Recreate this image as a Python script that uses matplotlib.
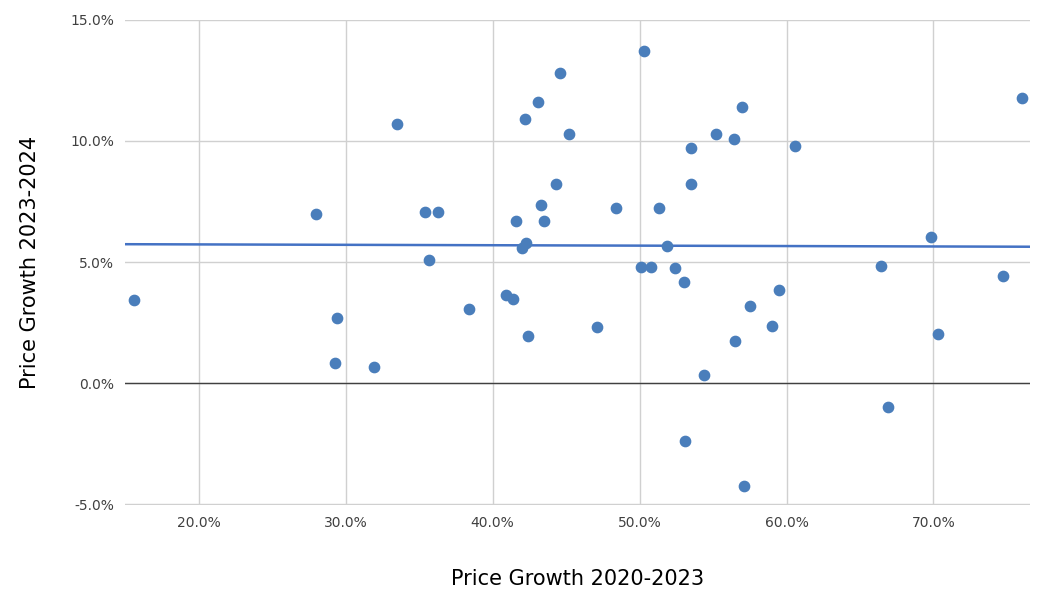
import matplotlib.pyplot as plt
import numpy as np
from matplotlib.ticker import PercentFormatter

plt.rcParams["axes.unicode_minus"] = False

growth_2020_2023 = [15.6, 28.0, 29.3, 29.4, 31.9, 33.5, 35.4, 35.7, 36.3, 38.4,
                    40.9, 41.4, 41.6, 42.0, 42.2, 42.3, 42.4, 43.1, 43.3, 43.5,
                    44.3, 44.6, 45.2, 47.1, 48.4, 50.1, 50.3, 50.8, 51.3, 51.9,
                    52.4, 53.0, 53.1, 53.5, 53.5, 54.4, 55.2, 56.4, 56.5, 57.0,
                    57.1, 57.5, 59.0, 59.5, 60.6, 66.4, 66.9, 69.8, 70.3, 74.7, 76.0]
growth_2023_2024 = [3.43, 6.98, 0.83, 2.69, 0.66, 10.7, 7.07, 5.08, 7.07, 3.06,
                    3.64, 3.47, 6.69, 5.58, 10.9, 5.79, 1.94, 11.6, 7.36, 6.69,
                    8.22, 12.8, 10.3, 2.31, 7.23, 4.79, 13.7, 4.79, 7.23, 5.66,
                    4.75, 4.17, -2.40, 9.71, 8.22, 0.33, 10.3, 10.1, 1.74, 11.4,
                    -4.26, 3.18, 2.36, 3.84, 9.79, 4.83, -0.99, 6.03, 2.02, 4.42, 11.78]

x = np.array(growth_2020_2023)
y = np.array(growth_2023_2024)

fig = plt.figure(figsize=(10.44, 6.03), dpi=100)
ax = fig.add_axes([0.12, 0.162, 0.867, 0.805])

ax.scatter(x, y, s=55, color="#4a7ebb", zorder=3)
slope, intercept = np.polyfit(x, y, 1)
xs = np.array([15.0, 76.6])
ax.plot(xs, slope * xs + intercept, color="#4472c4", linewidth=1.8, zorder=2)

ax.set_xlim(15.0, 76.6)
ax.set_ylim(-5.05, 15)
ax.set_xticks(np.arange(20, 71, 10))
ax.set_yticks(np.arange(-5, 16, 5))
ax.xaxis.set_major_formatter(PercentFormatter(decimals=1))
ax.yaxis.set_major_formatter(PercentFormatter(decimals=1))
ax.grid(True, color="#d0d0d0", linewidth=1)
ax.set_axisbelow(True)
ax.axhline(0, color="#404040", linewidth=1, zorder=1)
for s in ax.spines.values():
    s.set_visible(False)
ax.tick_params(length=0, labelsize=10, colors="#404040", pad=8)
ax.set_xlabel("Price Growth 2020-2023", fontsize=15, labelpad=28)
ax.set_ylabel("Price Growth 2023-2024", fontsize=15, labelpad=22)

fig.savefig("out.png", dpi=100)
